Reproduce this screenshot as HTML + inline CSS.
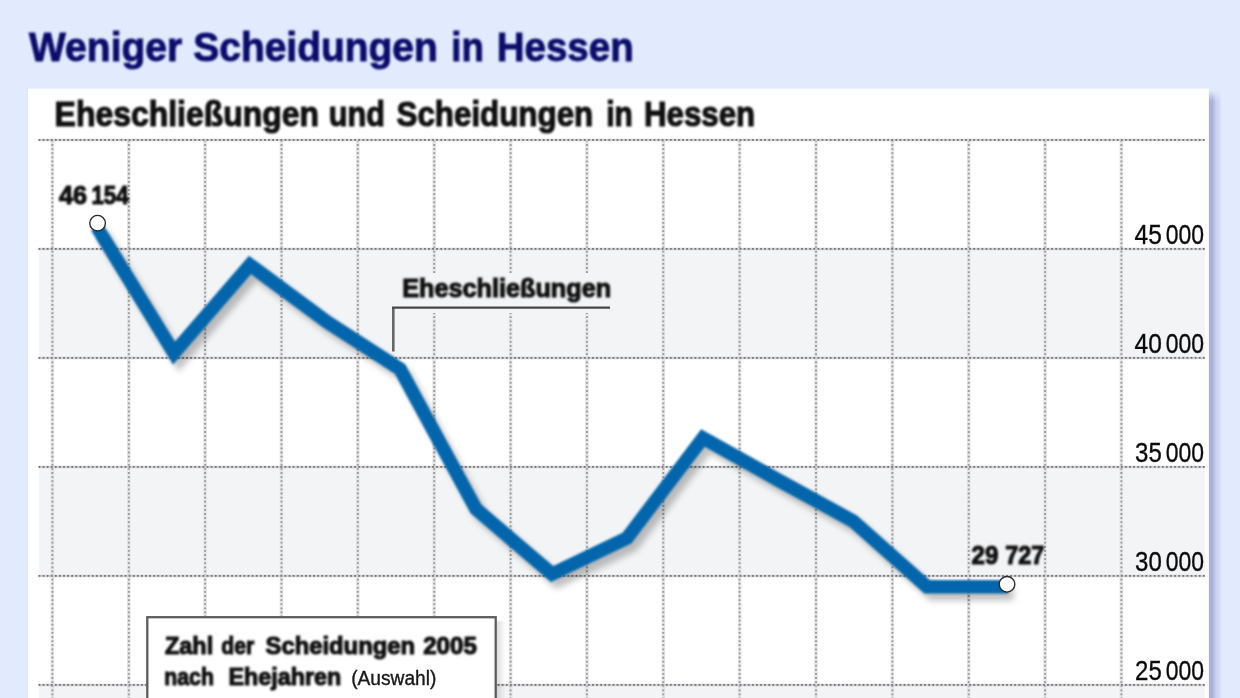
<!DOCTYPE html>
<html lang="de"><head><meta charset="utf-8"><title>Weniger Scheidungen in Hessen</title>
<style>
html,body{margin:0;padding:0;background:#e2ebfd;overflow:hidden}
svg{display:block}
text{font-family:"Liberation Sans",sans-serif}
.b{font-weight:bold}
.k{stroke:#0a0a0a;stroke-width:1.1px}
.n{stroke:#111;stroke-width:0.35px}
.t{stroke:#0b0b6b;stroke-width:0.9px}
</style></head><body>
<svg width="1240" height="698" viewBox="0 0 1240 698">
<defs>
<linearGradient id="sh" x1="0" x2="1" y1="0" y2="0"><stop offset="0" stop-color="#a8b0d9"/><stop offset="0.3" stop-color="#abb3db"/><stop offset="0.42" stop-color="#b9c1e5"/><stop offset="0.55" stop-color="#cad2ef"/><stop offset="0.8" stop-color="#d0d8f3"/><stop offset="0.9" stop-color="#dde5f9"/><stop offset="1" stop-color="#e2ebfd"/></linearGradient>
<linearGradient id="shtop" x1="0" x2="0" y1="0" y2="1"><stop offset="0" stop-color="#e2ebfd"/><stop offset="1" stop-color="#e2ebfd" stop-opacity="0"/></linearGradient>
<linearGradient id="bsh" x1="0" x2="1" y1="0" y2="0"><stop offset="0" stop-color="#000" stop-opacity="0.14"/><stop offset="1" stop-color="#000" stop-opacity="0"/></linearGradient>
<filter id="blur" color-interpolation-filters="sRGB" x="-5%" y="-5%" width="110%" height="110%"><feGaussianBlur stdDeviation="3.4"/></filter>
<filter id="soft" color-interpolation-filters="sRGB" x="-5%" y="-5%" width="110%" height="110%"><feGaussianBlur stdDeviation="0.8"/></filter>
<filter id="tsoft" color-interpolation-filters="sRGB" filterUnits="userSpaceOnUse" x="0" y="0" width="1240" height="698"><feGaussianBlur stdDeviation="0.8"/></filter>
</defs>
<rect width="1240" height="698" fill="#e2ebfd"/>
<rect x="1208.5" y="90" width="13.5" height="608" fill="url(#sh)"/>
<rect x="1208" y="90" width="14.5" height="11" fill="url(#shtop)"/>
<rect x="28" y="88.7" width="1180.8" height="610" fill="#fff"/>

<rect x="39" y="249" width="1166" height="109" fill="#f3f4f6"/>
<rect x="39" y="467" width="1166" height="109" fill="#f3f4f6"/>
<rect x="39" y="685" width="1166" height="20" fill="#f3f4f6"/>
<g id="grid">
<line x1="52.4" y1="140" x2="52.4" y2="698" stroke="#e6e6e8" stroke-width="3.6"/>
<line x1="52.4" y1="140" x2="52.4" y2="698" stroke="#9a9a9c" stroke-width="1.9" stroke-dasharray="1.8 2.3"/>
<line x1="128.8" y1="140" x2="128.8" y2="698" stroke="#e6e6e8" stroke-width="3.6"/>
<line x1="128.8" y1="140" x2="128.8" y2="698" stroke="#9a9a9c" stroke-width="1.9" stroke-dasharray="1.8 2.3"/>
<line x1="205.1" y1="140" x2="205.1" y2="698" stroke="#e6e6e8" stroke-width="3.6"/>
<line x1="205.1" y1="140" x2="205.1" y2="698" stroke="#9a9a9c" stroke-width="1.9" stroke-dasharray="1.8 2.3"/>
<line x1="281.5" y1="140" x2="281.5" y2="698" stroke="#e6e6e8" stroke-width="3.6"/>
<line x1="281.5" y1="140" x2="281.5" y2="698" stroke="#9a9a9c" stroke-width="1.9" stroke-dasharray="1.8 2.3"/>
<line x1="357.8" y1="140" x2="357.8" y2="698" stroke="#e6e6e8" stroke-width="3.6"/>
<line x1="357.8" y1="140" x2="357.8" y2="698" stroke="#9a9a9c" stroke-width="1.9" stroke-dasharray="1.8 2.3"/>
<line x1="434.2" y1="140" x2="434.2" y2="698" stroke="#e6e6e8" stroke-width="3.6"/>
<line x1="434.2" y1="140" x2="434.2" y2="698" stroke="#9a9a9c" stroke-width="1.9" stroke-dasharray="1.8 2.3"/>
<line x1="510.6" y1="140" x2="510.6" y2="698" stroke="#e6e6e8" stroke-width="3.6"/>
<line x1="510.6" y1="140" x2="510.6" y2="698" stroke="#9a9a9c" stroke-width="1.9" stroke-dasharray="1.8 2.3"/>
<line x1="586.9" y1="140" x2="586.9" y2="698" stroke="#e6e6e8" stroke-width="3.6"/>
<line x1="586.9" y1="140" x2="586.9" y2="698" stroke="#9a9a9c" stroke-width="1.9" stroke-dasharray="1.8 2.3"/>
<line x1="663.3" y1="140" x2="663.3" y2="698" stroke="#e6e6e8" stroke-width="3.6"/>
<line x1="663.3" y1="140" x2="663.3" y2="698" stroke="#9a9a9c" stroke-width="1.9" stroke-dasharray="1.8 2.3"/>
<line x1="739.6" y1="140" x2="739.6" y2="698" stroke="#e6e6e8" stroke-width="3.6"/>
<line x1="739.6" y1="140" x2="739.6" y2="698" stroke="#9a9a9c" stroke-width="1.9" stroke-dasharray="1.8 2.3"/>
<line x1="816.0" y1="140" x2="816.0" y2="698" stroke="#e6e6e8" stroke-width="3.6"/>
<line x1="816.0" y1="140" x2="816.0" y2="698" stroke="#9a9a9c" stroke-width="1.9" stroke-dasharray="1.8 2.3"/>
<line x1="892.4" y1="140" x2="892.4" y2="698" stroke="#e6e6e8" stroke-width="3.6"/>
<line x1="892.4" y1="140" x2="892.4" y2="698" stroke="#9a9a9c" stroke-width="1.9" stroke-dasharray="1.8 2.3"/>
<line x1="968.7" y1="140" x2="968.7" y2="698" stroke="#e6e6e8" stroke-width="3.6"/>
<line x1="968.7" y1="140" x2="968.7" y2="698" stroke="#9a9a9c" stroke-width="1.9" stroke-dasharray="1.8 2.3"/>
<line x1="1045.1" y1="140" x2="1045.1" y2="698" stroke="#e6e6e8" stroke-width="3.6"/>
<line x1="1045.1" y1="140" x2="1045.1" y2="698" stroke="#9a9a9c" stroke-width="1.9" stroke-dasharray="1.8 2.3"/>
<line x1="1121.4" y1="140" x2="1121.4" y2="698" stroke="#e6e6e8" stroke-width="3.6"/>
<line x1="1121.4" y1="140" x2="1121.4" y2="698" stroke="#9a9a9c" stroke-width="1.9" stroke-dasharray="1.8 2.3"/>
<line x1="38.5" y1="139.9" x2="1205" y2="139.9" stroke="#d2d2d4" stroke-width="2.5"/>
<line x1="38.5" y1="139.9" x2="1205" y2="139.9" stroke="#747476" stroke-width="1.8" stroke-dasharray="1.8 2.3"/>
<line x1="38.5" y1="248.9" x2="1205" y2="248.9" stroke="#d2d2d4" stroke-width="2.5"/>
<line x1="38.5" y1="248.9" x2="1205" y2="248.9" stroke="#747476" stroke-width="1.8" stroke-dasharray="1.8 2.3"/>
<line x1="38.5" y1="357.9" x2="1205" y2="357.9" stroke="#d2d2d4" stroke-width="2.5"/>
<line x1="38.5" y1="357.9" x2="1205" y2="357.9" stroke="#747476" stroke-width="1.8" stroke-dasharray="1.8 2.3"/>
<line x1="38.5" y1="466.9" x2="1205" y2="466.9" stroke="#d2d2d4" stroke-width="2.5"/>
<line x1="38.5" y1="466.9" x2="1205" y2="466.9" stroke="#747476" stroke-width="1.8" stroke-dasharray="1.8 2.3"/>
<line x1="38.5" y1="575.9" x2="1205" y2="575.9" stroke="#d2d2d4" stroke-width="2.5"/>
<line x1="38.5" y1="575.9" x2="1205" y2="575.9" stroke="#747476" stroke-width="1.8" stroke-dasharray="1.8 2.3"/>
<line x1="38.5" y1="684.9" x2="1205" y2="684.9" stroke="#d2d2d4" stroke-width="2.5"/>
<line x1="38.5" y1="684.9" x2="1205" y2="684.9" stroke="#747476" stroke-width="1.8" stroke-dasharray="1.8 2.3"/>
</g>
<rect x="390" y="273" width="224" height="40" fill="#f3f4f6"/>
<path d="M393.3 351.5V307.7" fill="none" stroke="#666" stroke-width="2.6"/>
<path d="M392 307.7H610" fill="none" stroke="#484848" stroke-width="2.2"/>
<polyline points="96.8,227 174,353 250,265 327,322 400,369 476,509 552,574 627,538 703,438 778,480 853,521 927,586.8 1008,586.8" fill="none" stroke="#000" stroke-opacity="0.24" stroke-width="13.5" stroke-linejoin="miter" transform="translate(5.5,7)" filter="url(#blur)"/>
<polyline points="96.8,227 174,353 250,265 327,322 400,369 476,509 552,574 627,538 703,438 778,480 853,521 927,586.8 1008,586.8" fill="none" stroke="#0366ac" stroke-width="13.5" stroke-linejoin="miter" stroke-miterlimit="6" filter="url(#soft)"/>
<circle cx="97.6" cy="223.2" r="7.8" fill="#fff" stroke="#2a2a2a" stroke-width="1.4"/>
<circle cx="1007" cy="584.3" r="7.8" fill="#fff" stroke="#2a2a2a" stroke-width="1.4"/>
<rect x="496.5" y="621" width="9" height="80" fill="url(#bsh)"/>
<rect x="147.3" y="617.2" width="348.4" height="90" fill="#fff" stroke="#5c5c5c" stroke-width="2.3"/>
<g filter="url(#tsoft)">
<text class="b t" y="60.9" font-size="40.8" fill="#0b0b6b"><tspan x="29.0" textLength="153.2" lengthAdjust="spacingAndGlyphs">Weniger</tspan> <tspan x="193.3" textLength="244.4" lengthAdjust="spacingAndGlyphs">Scheidungen</tspan> <tspan x="451.3" textLength="32.7" lengthAdjust="spacingAndGlyphs">in</tspan> <tspan x="496.7" textLength="137.0" lengthAdjust="spacingAndGlyphs">Hessen</tspan></text>
<text class="b k" y="126.1" font-size="35" fill="#111"><tspan x="54.6" textLength="264.4" lengthAdjust="spacingAndGlyphs">Eheschließungen</tspan> <tspan x="328.8" textLength="56.1" lengthAdjust="spacingAndGlyphs">und</tspan> <tspan x="396.5" textLength="196.7" lengthAdjust="spacingAndGlyphs">Scheidungen</tspan> <tspan x="606.3" textLength="26.6" lengthAdjust="spacingAndGlyphs">in</tspan> <tspan x="644.0" textLength="111.2" lengthAdjust="spacingAndGlyphs">Hessen</tspan></text>
<text class="b k" y="297.2" font-size="26.4" fill="#111"><tspan x="402.3" textLength="208.8" lengthAdjust="spacingAndGlyphs">Eheschließungen</tspan></text>
<text class="b k" y="204.1" font-size="25.8" fill="#111"><tspan x="59.1" textLength="28.0" lengthAdjust="spacingAndGlyphs">46</tspan> <tspan x="91.4" textLength="37.2" lengthAdjust="spacingAndGlyphs">154</tspan></text>
<text class="b k" y="564.1" font-size="25.8" fill="#111"><tspan x="971.5" textLength="26.8" lengthAdjust="spacingAndGlyphs">29</tspan> <tspan x="1005.2" textLength="39.2" lengthAdjust="spacingAndGlyphs">727</tspan></text>
<text class="b k" y="653.9" font-size="24.6" fill="#111"><tspan x="165.0" textLength="48.2" lengthAdjust="spacingAndGlyphs">Zahl</tspan> <tspan x="221.2" textLength="33.0" lengthAdjust="spacingAndGlyphs">der</tspan> <tspan x="265.5" textLength="149.6" lengthAdjust="spacingAndGlyphs">Scheidungen</tspan> <tspan x="423.2" textLength="53.6" lengthAdjust="spacingAndGlyphs">2005</tspan></text>
<text class="b k" y="684.6" font-size="24.6" fill="#111"><tspan x="164.2" textLength="49.7" lengthAdjust="spacingAndGlyphs">nach</tspan> <tspan x="228.4" textLength="113.0" lengthAdjust="spacingAndGlyphs">Ehejahren</tspan></text>
</g>
<text class="n" y="684.8" font-size="19.3" fill="#1a1a1a"><tspan x="351.2" textLength="85.2" lengthAdjust="spacingAndGlyphs">(Auswahl)</tspan></text>
<text class="n" y="244.1" font-size="27.2" fill="#0a0a0a"><tspan x="1134.5" textLength="27.3" lengthAdjust="spacingAndGlyphs">45</tspan> <tspan x="1165.8" textLength="38.3" lengthAdjust="spacingAndGlyphs">000</tspan></text>
<text class="n" y="353.1" font-size="27.2" fill="#0a0a0a"><tspan x="1134.5" textLength="27.3" lengthAdjust="spacingAndGlyphs">40</tspan> <tspan x="1165.8" textLength="38.3" lengthAdjust="spacingAndGlyphs">000</tspan></text>
<text class="n" y="462.1" font-size="27.2" fill="#0a0a0a"><tspan x="1135.1" textLength="26.7" lengthAdjust="spacingAndGlyphs">35</tspan> <tspan x="1165.8" textLength="38.3" lengthAdjust="spacingAndGlyphs">000</tspan></text>
<text class="n" y="571.1" font-size="27.2" fill="#0a0a0a"><tspan x="1135.1" textLength="26.7" lengthAdjust="spacingAndGlyphs">30</tspan> <tspan x="1165.8" textLength="38.3" lengthAdjust="spacingAndGlyphs">000</tspan></text>
<text class="n" y="680.1" font-size="27.2" fill="#0a0a0a"><tspan x="1135.1" textLength="26.7" lengthAdjust="spacingAndGlyphs">25</tspan> <tspan x="1165.8" textLength="38.3" lengthAdjust="spacingAndGlyphs">000</tspan></text>
</svg></body></html>
